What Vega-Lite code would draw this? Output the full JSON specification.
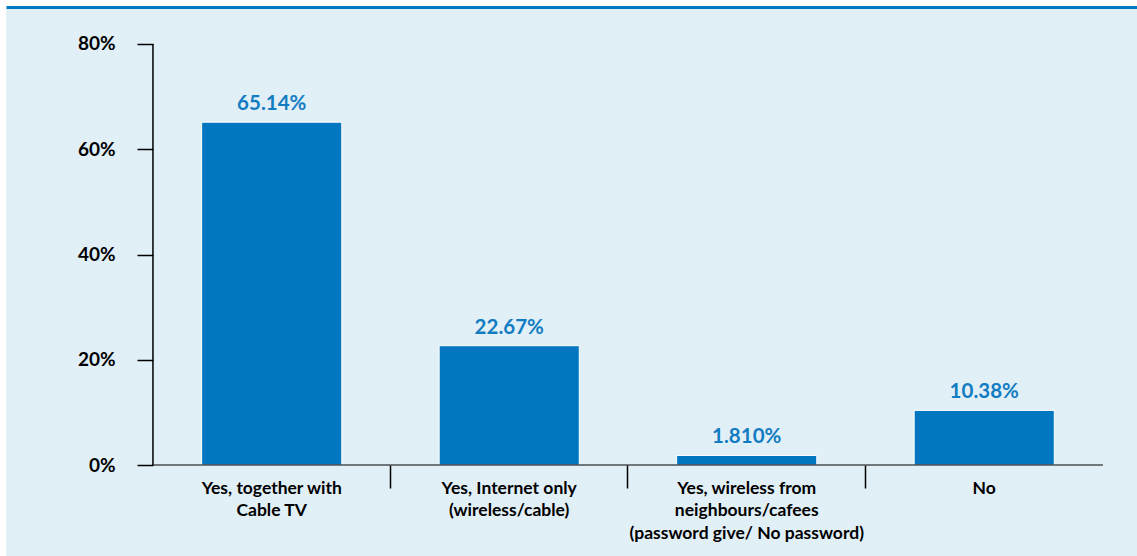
{
  "$schema": "https://vega.github.io/schema/vega-lite/v6.json",
  "width": 1137,
  "height": 556,
  "autosize": {"type": "fit", "contains": "padding"},
  "padding": {"left": 6, "top": 7, "right": 0, "bottom": 0},
  "background": "#ffffff",
  "view": {"fill": "#e1eff7", "stroke": null},
  "config": {"font": "Lato"},
  "data": {
    "values": [
      {"cat": "Yes, together with\nCable TV", "pct": 65.14, "label": "65.14%"},
      {"cat": "Yes, Internet only\n(wireless/cable)", "pct": 22.67, "label": "22.67%"},
      {"cat": "Yes, wireless from\nneighbours/cafees\n(password give/ No password)", "pct": 1.81, "label": "1.810%"},
      {"cat": "No", "pct": 10.38, "label": "10.38%"}
    ]
  },
  "layer": [
    {
      "mark": {"type": "bar", "width": {"band": 0.59}, "color": "#0077c0", "stroke": "#ffffff", "strokeWidth": 1},
      "encoding": {
        "x": {
          "field": "cat", "type": "nominal", "sort": null,
          "scale": {
            "domain": ["Yes, together with\nCable TV", "Yes, Internet only\n(wireless/cable)", "Yes, wireless from\nneighbours/cafees\n(password give/ No password)", "No"],
            "paddingInner": 0, "paddingOuter": 0.381, "align": 0.812
          },
          "axis": {
            "orient": "bottom", "offset": -91, "title": null, "domain": false,
            "bandPosition": 0, "tickSize": 23, "tickWidth": 1.5, "tickColor": "#000000",
            "tickOpacity": {"condition": {"test": "indexof(datum.value, 'together') >= 0", "value": 0}, "value": 1},
            "labelOffset": 0, "labelPadding": -9, "labelAngle": 0,
            "labelExpr": "split(datum.label, '\\n')", "labelLineHeight": 22.5,
            "labelFontSize": 17.5, "labelFontWeight": "bold", "labelColor": "#000000",
            "labelOverlap": false, "labelFlush": false, "labelBound": false, "labelLimit": 400
          }
        },
        "y": {
          "field": "pct", "type": "quantitative",
          "scale": {"domain": [-17.29, 87.03], "nice": false, "zero": false},
          "axis": {
            "orient": "left", "offset": -147, "title": null, "domain": false, "grid": false,
            "values": [0, 20, 40, 60, 80], "tickSize": 16, "tickWidth": 1.5, "tickColor": "#000000",
            "labelPadding": 22, "labelFontSize": 19, "labelFontWeight": "bold", "labelColor": "#000000",
            "labelExpr": "datum.value + '%'"
          }
        },
        "y2": {"datum": 0}
      }
    },
    {
      "mark": {"type": "text", "dy": -12, "baseline": "alphabetic", "fontSize": 20.5, "fontWeight": "bold", "color": "#127cc2"},
      "encoding": {
        "x": {"field": "cat", "type": "nominal", "sort": null, "axis": null},
        "y": {"field": "pct", "type": "quantitative"},
        "text": {"field": "label"}
      }
    },
    {
      "mark": {"type": "bar", "width": {"band": 1}, "fillOpacity": 0, "stroke": "#000000", "strokeWidth": 1.2},
      "encoding": {
        "x": {
          "field": "cat", "type": "nominal", "sort": null,
          "axis": {"orient": "top", "title": null, "domain": true, "domainColor": "#0077c0", "domainWidth": 3, "ticks": false, "labels": false}
        },
        "y": {"datum": 0},
        "y2": {"datum": 0}
      }
    },
    {
      "data": {"values": [{}]},
      "mark": {"type": "rule", "color": "#000000", "strokeWidth": 1.5},
      "encoding": {
        "x": {"datum": "Yes, together with\nCable TV", "bandPosition": 0, "axis": null},
        "y": {"datum": 0},
        "y2": {"datum": 80}
      }
    }
  ],
  "resolve": {"axis": {"x": "independent"}}
}
